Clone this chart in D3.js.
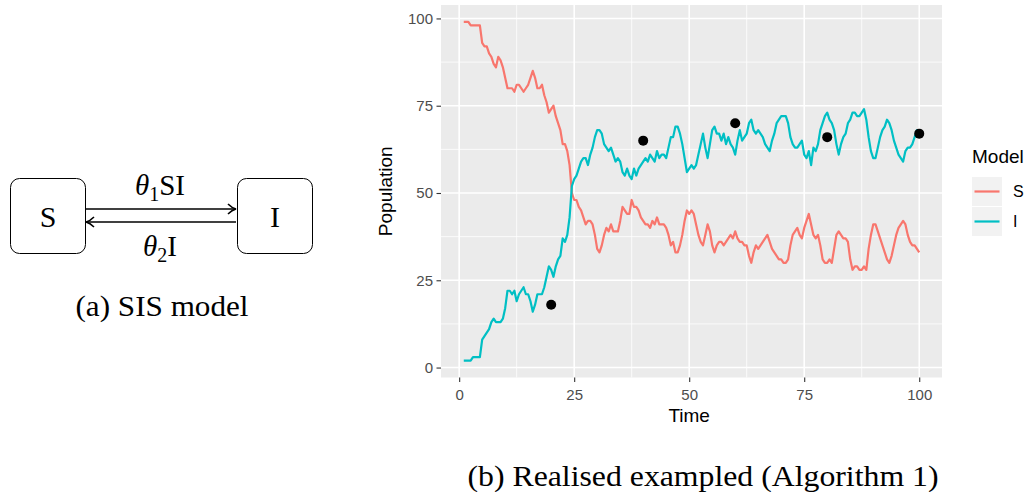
<!DOCTYPE html>
<html>
<head>
<meta charset="utf-8">
<script src="https://cdn.jsdelivr.net/npm/d3@7"></script>
<style>
  body { margin: 0; background: #fff; }
  svg { display: block; }
</style>
</head>
<body>
<div id="chart"></div>
<script>
////////////////////////////////////////////////////////////
//////////////////////// Data //////////////////////////////
////////////////////////////////////////////////////////////

// simulated path, one value every half time unit from t = 1 to t = 100
var timeStart = 1, timeStep = 0.5;

var susceptible = [
  99, 99, 99, 98, 98, 98, 98, 98, 93, 92,
  92, 90, 89, 87, 86, 89, 88, 86, 83, 80,
  80, 80, 79, 81, 81, 80, 79, 80, 81, 83,
  85, 83, 80, 80, 81, 78, 76, 73, 74, 75,
  72, 70, 68, 64, 64, 62, 58, 50, 48, 48,
  46, 45, 43, 41, 42, 42, 41, 38, 34, 33,
  35, 38, 40, 39, 41, 39, 39, 39, 42, 46,
  45, 44, 44, 48, 46, 46, 45, 43, 42, 41,
  41, 40, 42, 41, 43, 41, 41, 41, 40, 38,
  35, 36, 33, 33, 35, 38, 42, 45, 44, 45,
  44, 41, 38, 36, 35, 38, 41, 39, 35, 33,
  35, 36, 36, 35, 36, 37, 38, 37, 39, 37,
  36, 36, 35, 35, 32, 30, 33, 35, 34, 35,
  36, 37, 38, 36, 34, 33, 32, 31, 31, 30,
  30, 31, 35, 38, 39, 40, 38, 37, 40, 42,
  44, 41, 38, 37, 38, 35, 31, 30, 30, 31,
  30, 34, 38, 39, 38, 37, 37, 36, 31, 28,
  29, 29, 28, 28, 29, 28, 34, 38, 41, 41,
  39, 37, 35, 33, 31, 30, 32, 35, 38, 40,
  41, 42, 41, 38, 36, 35, 35, 34, 33
];

var infected = [
  2, 2, 2, 2, 3, 3, 3, 3, 8, 9,
  10, 11, 13, 14, 13, 13, 13, 14, 17, 22,
  22, 21, 22, 19, 21, 22, 23, 21, 21, 19,
  16, 18, 21, 21, 21, 23, 26, 29, 28, 26,
  29, 31, 32, 37, 36, 38, 43, 52, 54, 55,
  57, 59, 60, 60, 58, 61, 63, 66, 68, 68,
  67, 64, 63, 62, 63, 61, 59, 60, 59, 56,
  55, 57, 55, 54, 57, 55, 57, 58, 59, 60,
  59, 61, 60, 59, 62, 60, 61, 61, 60, 63,
  66, 66, 69, 69, 67, 64, 60, 56, 57, 58,
  57, 58, 61, 64, 67, 63, 60, 64, 68, 69,
  67, 67, 65, 67, 64, 66, 64, 63, 61, 65,
  68, 65, 66, 67, 70, 71, 68, 67, 68, 67,
  66, 64, 63, 62, 65, 67, 70, 71, 72, 72,
  72, 70, 66, 64, 63, 63, 64, 65, 61, 60,
  62, 58, 63, 62, 64, 68, 70, 72, 73, 71,
  70, 68, 64, 61, 64, 66, 67, 70, 71, 73,
  73, 72, 72, 73, 74, 71, 66, 62, 60, 60,
  63, 66, 68, 69, 71, 70, 68, 65, 63, 61,
  60, 59, 62, 63, 63, 64, 66, 68, 68
];

// observations (black dots)
var obsTime = [20, 40, 60, 80, 100];
var obsValue = [18, 65, 70, 66, 67];

var xTicks = [0, 25, 50, 75, 100];
var yTicks = [0, 25, 50, 75, 100];
var seriesNames = ["S", "I"];
var seriesColors = ["#F8766D", "#00BFC4"];

////////////////////////////////////////////////////////////
//////////////////////// Set-up ////////////////////////////
////////////////////////////////////////////////////////////

var width = 1029, height = 492;
var panel = { left: 441, top: 5, right: 942, bottom: 377.5 };

var svg = d3.select("#chart").append("svg")
  .attr("width", width)
  .attr("height", height)
  .attr("viewBox", "0 0 " + width + " " + height);

svg.append("rect").attr("width", width).attr("height", height).attr("fill", "#fff");

var sans = "'Liberation Sans', Arial, Helvetica, sans-serif";
var serif = "'Liberation Serif', 'Times New Roman', serif";

////////////////////////////////////////////////////////////
///////////////////// (a) SIS diagram //////////////////////
////////////////////////////////////////////////////////////

var diag = svg.append("g").attr("class", "diagram");

var boxes = [{ label: "S", x: 10 }, { label: "I", x: 237 }];
diag.selectAll(".box")
  .data(boxes)
  .enter().append("rect")
  .attr("class", "box")
  .attr("x", function (d) { return d.x + 0.5; })
  .attr("y", 178.5)
  .attr("width", 75)
  .attr("height", 75)
  .attr("rx", 9)
  .attr("fill", "#fff")
  .attr("stroke", "#000")
  .attr("stroke-width", 1);

diag.selectAll(".boxLabel")
  .data(boxes)
  .enter().append("text")
  .attr("class", "boxLabel")
  .attr("x", function (d) { return d.x + 38; })
  .attr("y", 227)
  .attr("text-anchor", "middle")
  .style("font-family", serif)
  .style("font-size", "30px")
  .text(function (d) { return d.label; });

// arrows
diag.append("line").attr("x1", 86).attr("x2", 235).attr("y1", 209).attr("y2", 209)
  .attr("stroke", "#000").attr("stroke-width", 1.6);
diag.append("path").attr("d", "M228,204 Q232,208 236,209 Q232,210 228,214")
  .attr("fill", "none").attr("stroke", "#000").attr("stroke-width", 1.6);
diag.append("line").attr("x1", 87).attr("x2", 236).attr("y1", 222).attr("y2", 222)
  .attr("stroke", "#000").attr("stroke-width", 1.6);
diag.append("path").attr("d", "M94,217 Q90,221 86,222 Q90,223 94,227")
  .attr("fill", "none").attr("stroke", "#000").attr("stroke-width", 1.6);

function rateLabel(yPos, sub, rest) {
  var t = diag.append("text")
    .attr("x", 160)
    .attr("y", yPos)
    .attr("text-anchor", "middle")
    .style("font-family", serif)
    .style("font-size", "29px");
  t.append("tspan").style("font-style", "italic").text("θ");
  t.append("tspan").attr("dy", 6).style("font-size", "20px").text(sub);
  t.append("tspan").attr("dy", -6).text(rest);
}
rateLabel(195, "1", "SI");
rateLabel(256, "2", "I");

diag.append("text")
  .attr("x", 162)
  .attr("y", 316)
  .attr("text-anchor", "middle")
  .attr("textLength", 173)
  .attr("lengthAdjust", "spacingAndGlyphs")
  .style("font-family", serif)
  .style("font-size", "29px")
  .text("(a) SIS model");

////////////////////////////////////////////////////////////
///////////////////// Scales & axes ////////////////////////
////////////////////////////////////////////////////////////

var times = susceptible.map(function (d, i) { return timeStart + i * timeStep; });
var tExt = d3.extent(times);
var vExt = d3.extent(susceptible.concat(infected));
var tPad = (tExt[1] - tExt[0]) * 0.05, vPad = (vExt[1] - vExt[0]) * 0.05;

var x = d3.scaleLinear()
  .domain([tExt[0] - tPad, tExt[1] + tPad])
  .range([panel.left, panel.right]);

var y = d3.scaleLinear()
  .domain([vExt[0] - vPad, vExt[1] + vPad])
  .range([panel.bottom, panel.top]);

var plot = svg.append("g").attr("class", "plot");

plot.append("rect")
  .attr("x", panel.left).attr("y", panel.top)
  .attr("width", panel.right - panel.left)
  .attr("height", panel.bottom - panel.top)
  .attr("fill", "#EBEBEB");

var minorX = xTicks.slice(1).map(function (d, i) { return (d + xTicks[i]) / 2; });
var minorY = yTicks.slice(1).map(function (d, i) { return (d + yTicks[i]) / 2; });

//minor grid
plot.selectAll(".minorX").data(minorX).enter().append("line")
  .attr("x1", x).attr("x2", x).attr("y1", panel.top).attr("y2", panel.bottom)
  .attr("stroke", "#fff").attr("stroke-width", 0.8);
plot.selectAll(".minorY").data(minorY).enter().append("line")
  .attr("y1", y).attr("y2", y).attr("x1", panel.left).attr("x2", panel.right)
  .attr("stroke", "#fff").attr("stroke-width", 0.8);
//major grid
plot.selectAll(".majorX").data(xTicks).enter().append("line")
  .attr("x1", x).attr("x2", x).attr("y1", panel.top).attr("y2", panel.bottom)
  .attr("stroke", "#fff").attr("stroke-width", 1.6);
plot.selectAll(".majorY").data(yTicks).enter().append("line")
  .attr("y1", y).attr("y2", y).attr("x1", panel.left).attr("x2", panel.right)
  .attr("stroke", "#fff").attr("stroke-width", 1.6);

var xAxis = plot.append("g")
  .attr("transform", "translate(0," + panel.bottom + ")")
  .call(d3.axisBottom(x).tickValues(xTicks).tickSize(4.5).tickPadding(7));
var yAxis = plot.append("g")
  .attr("transform", "translate(" + panel.left + ",0)")
  .call(d3.axisLeft(y).tickValues(yTicks).tickSize(4.5).tickPadding(3.5));

[xAxis, yAxis].forEach(function (ax) {
  ax.select(".domain").remove();
  ax.selectAll(".tick line").attr("stroke", "#333").attr("stroke-width", 1.1);
  ax.selectAll(".tick text")
    .attr("fill", "#4D4D4D")
    .style("font-family", sans)
    .style("font-size", "15px");
});

plot.append("text")
  .attr("x", (x(0) + x(100)) / 2)
  .attr("y", 422)
  .attr("text-anchor", "middle")
  .style("font-family", sans)
  .style("font-size", "19px")
  .text("Time");

plot.append("text")
  .attr("transform", "translate(392," + ((panel.top + panel.bottom) / 2) + ") rotate(-90)")
  .attr("text-anchor", "middle")
  .style("font-family", sans)
  .style("font-size", "19px")
  .text("Population");

////////////////////////////////////////////////////////////
///////////////////// Lines & points ///////////////////////
////////////////////////////////////////////////////////////

var line = d3.line()
  .x(function (d, i) { return x(times[i]); })
  .y(function (d) { return y(d); });

plot.selectAll(".series")
  .data([susceptible, infected])
  .enter().append("path")
  .attr("class", "series")
  .attr("d", line)
  .attr("fill", "none")
  .attr("stroke", function (d, i) { return seriesColors[i]; })
  .attr("stroke-width", 2.2)
  .attr("stroke-linejoin", "round");

plot.selectAll(".obs")
  .data(obsTime)
  .enter().append("circle")
  .attr("cx", function (d) { return x(d); })
  .attr("cy", function (d, i) { return y(obsValue[i]); })
  .attr("r", 5)
  .attr("fill", "#000");

////////////////////////////////////////////////////////////
///////////////////////// Legend ///////////////////////////
////////////////////////////////////////////////////////////

var legend = svg.append("g").attr("class", "legend");
legend.append("text")
  .attr("x", 972).attr("y", 163)
  .style("font-family", sans)
  .style("font-size", "19px")
  .text("Model");

var keys = legend.selectAll(".key")
  .data(seriesNames)
  .enter().append("g")
  .attr("transform", function (d, i) { return "translate(972," + (177 + i * 30) + ")"; });
keys.append("rect").attr("width", 30).attr("height", 29).attr("fill", "#F2F2F2");
keys.append("line")
  .attr("x1", 2.5).attr("x2", 27.5).attr("y1", 14.5).attr("y2", 14.5)
  .attr("stroke", function (d, i) { return seriesColors[i]; })
  .attr("stroke-width", 2.2);
keys.append("text")
  .attr("x", 41).attr("y", 14.5).attr("dy", "0.36em")
  .attr("fill", "#000")
  .style("font-family", sans)
  .style("font-size", "16px")
  .text(function (d) { return d; });

////////////////////////////////////////////////////////////
///////////////////////// Caption //////////////////////////
////////////////////////////////////////////////////////////

svg.append("text")
  .attr("x", 703)
  .attr("y", 486)
  .attr("text-anchor", "middle")
  .attr("textLength", 471)
  .attr("lengthAdjust", "spacingAndGlyphs")
  .style("font-family", serif)
  .style("font-size", "29px")
  .text("(b) Realised exampled (Algorithm 1)");
</script>
</body>
</html>
